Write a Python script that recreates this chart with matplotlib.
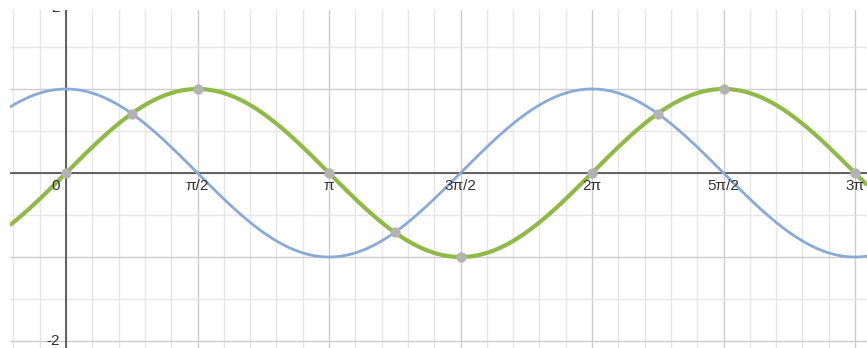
import numpy as np
import matplotlib
matplotlib.use("Agg")
import matplotlib.pyplot as plt

plt.rcParams["font.family"] = ["Liberation Sans", "DejaVu Sans"]

## Curves shown: y = sin(x) (green) and y = cos(x) (blue)
x_min, x_max = -0.669, 9.568
y_min, y_max = -2.083, 1.94

## Marked points on the sine curve (x in units of pi)
point_x_pi = [0, 0.25, 0.5, 1.0, 1.25, 1.5, 2.0, 2.25, 2.5, 3.0]
point_y = [0, 0.7071, 1, 0, -0.7071, -1, 0, 0.7071, 1, 0]

## Tick labels along the x axis (x in units of pi)
tick_x_pi = [0.5, 1.0, 1.5, 2.0, 2.5, 3.0]
tick_text = [u"\u03c0/2", u"\u03c0", u"3\u03c0/2", u"2\u03c0", u"5\u03c0/2", u"3\u03c0"]
y_labels = [2, -2]

blue = "#88aad8"
green = "#8fba47"
point_colour = "#b3b3b3"

fig = plt.figure(figsize=(8.67, 3.48), dpi=100)
ax = fig.add_axes([10 / 867, 0, 857 / 867, 338 / 348])

## Grid: minor every pi/10 and 0.5, major every pi/2 and 1
for k in range(-3, 32):
	xv = k * np.pi / 10
	c = "#cccccc" if k % 5 == 0 else "#e6e6e6"
	ax.axvline(xv, color=c, lw=1, zorder=0)
for k in range(-5, 5):
	yv = k * 0.5
	c = "#cccccc" if k % 2 == 0 else "#e6e6e6"
	ax.axhline(yv, color=c, lw=1, zorder=0)

ax.axhline(0, color="#555555", lw=1.3, zorder=1)
ax.axvline(0, color="#555555", lw=1.3, zorder=1)

x = np.linspace(x_min, x_max, 2000)
ax.plot(x, np.cos(x), color=blue, lw=2, zorder=2, solid_capstyle="butt")
ax.plot(x, np.sin(x), color=green, lw=3, zorder=3, solid_capstyle="butt")

ax.scatter(np.array(point_x_pi) * np.pi, point_y, s=55, color=point_colour, zorder=4, linewidths=0)

## Axis labels drawn like the original graphing tool
for xp, t in zip(tick_x_pi, tick_text):
	ax.text(xp * np.pi, -0.155, t, ha="center", va="center", fontsize=11, color="#333333",
		zorder=5, clip_on=False)
ax.text(-0.07, -0.155, "0", ha="right", va="center", fontsize=11, color="#333333", zorder=5)
for yl in y_labels:
	yy = yl - 0.04 if yl > 0 else yl
	ax.text(-0.07, yy, str(yl), ha="right", va="center", fontsize=11, color="#333333",
		zorder=5, clip_on=True)

ax.set_xlim(x_min, x_max)
ax.set_ylim(y_min, y_max)
ax.set_xticks([])
ax.set_yticks([])
for s in ax.spines.values():
	s.set_visible(False)

fig.savefig("out.png", dpi=100)
